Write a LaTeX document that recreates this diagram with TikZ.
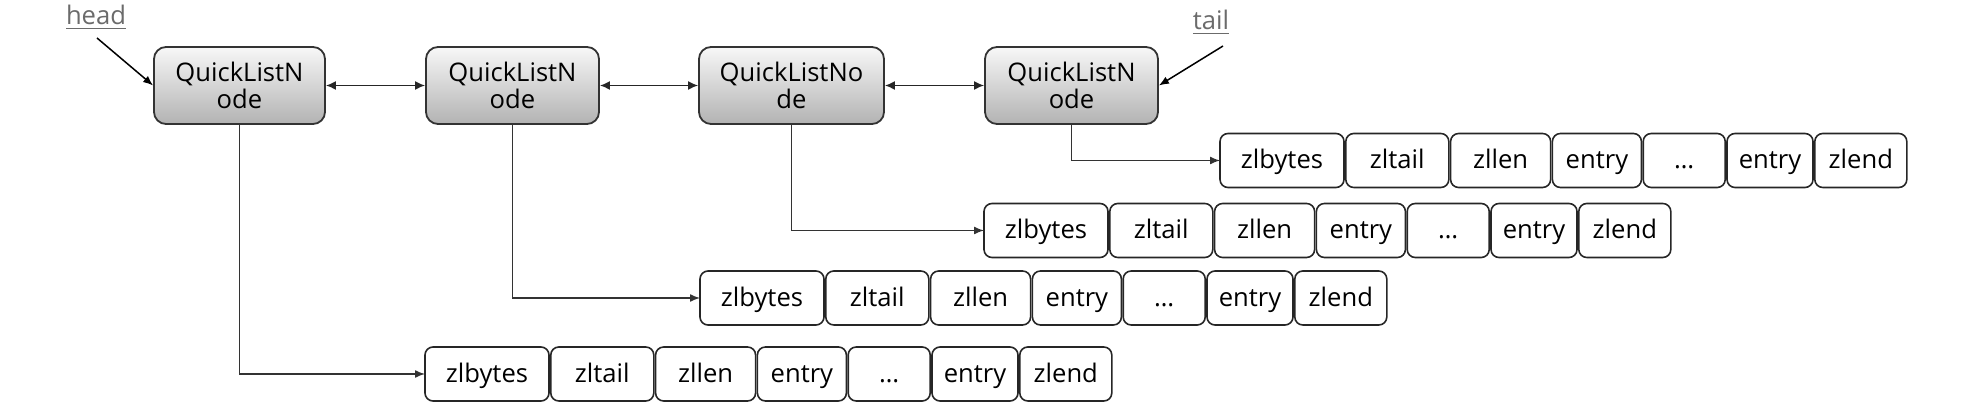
\documentclass[tikz,border=0pt]{standalone}
\usepackage{fontspec}
\setmainfont{Open Sans}
\usetikzlibrary{arrows.meta,positioning}
\newcommand\zrow[3]{%
  \node[cell,minimum width=62pt] (#1a) at (#2,#3) {zlbytes};
  \node[cell,minimum width=51.5pt,right=0.9pt of #1a] (#1b) {zltail};
  \node[cell,minimum width=50pt,right=0.9pt of #1b] (#1c) {zllen};
  \node[cell,minimum width=44.5pt,right=0.9pt of #1c] (#1d) {entry};
  \node[cell,minimum width=41pt,right=0.9pt of #1d] (#1e) {…};
  \node[cell,minimum width=43pt,right=0.9pt of #1e] (#1f) {entry};
  \node[cell,minimum width=46pt,right=0.9pt of #1f] (#1g) {zlend};
}
\begin{document}
\begin{tikzpicture}[x=0.5pt,y=-0.5pt,
  qln/.style={draw=black!80, line width=0.9pt, rounded corners=6pt, top color=black!3, bottom color=black!30, minimum height=38.5pt, inner sep=0pt, align=center, font=\fontsize{12.8}{13.7}\selectfont},
  cell/.style={draw=black!85, line width=0.8pt, rounded corners=4pt, minimum height=27pt, inner sep=0pt, outer sep=0pt, anchor=west, text height=11pt, text depth=2.5pt, font=\fontsize{12.8}{15}\selectfont},
  link/.style={draw=black!80, line width=0.7pt, -{Latex[length=5pt,width=4pt]}},
  dlink/.style={draw=black!85, line width=0.8pt, {Latex[length=5pt,width=4.5pt]}-{Latex[length=5pt,width=4.5pt]}},
  lbl/.style={text=black!58, font=\fontsize{12.8}{15}\selectfont, inner sep=0pt, anchor=base},
]
\useasboundingbox (0,0) rectangle (1964,415);
\node[qln, minimum width=85.5pt] (q1) at (239.5,85.5) {QuickListN\\ode};
\node[qln, minimum width=86.5pt] (q2) at (512.5,85.5) {QuickListN\\ode};
\node[qln, minimum width=92.5pt] (q3) at (791.5,85.5) {QuickListNo\\de};
\node[qln, minimum width=86.5pt] (q4) at (1071.5,85.5) {QuickListN\\ode};
\draw[dlink] (q1.east) -- (q2.west);
\draw[dlink] (q2.east) -- (q3.west);
\draw[dlink] (q3.east) -- (q4.west);
\zrow{r1}{1220}{160.5}
\zrow{r2}{984}{230.5}
\zrow{r3}{700}{298}
\zrow{r4}{425}{374}
\draw[link] (q4.south) |- (r1a.west);
\draw[link] (q3.south) |- (r2a.west);
\draw[link] (q2.south) |- (r3a.west);
\draw[link] (q1.south) |- (r4a.west);
\node[lbl] (head) at (96,25) {\underline{head}};
\coordinate (hs) at (97,38);
\draw[link, draw=black, line width=0.75pt] (hs) -- (q1.west);
\node[lbl] (tail) at (1211,30) {\underline{tail}};
\coordinate (ts) at (1223,46);
\draw[link, draw=black, line width=0.75pt] (ts) -- (q4.east);
\end{tikzpicture}
\end{document}
